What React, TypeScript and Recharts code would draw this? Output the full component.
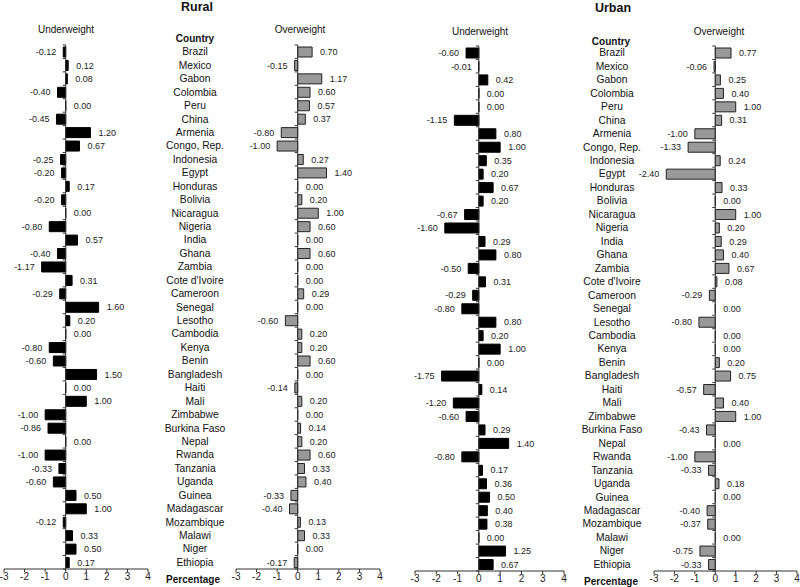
import React from 'react';
import { BarChart, Bar, XAxis, YAxis, ReferenceLine, LabelList } from 'recharts';

const countries = [
  'Brazil', 'Mexico', 'Gabon', 'Colombia', 'Peru', 'China', 'Armenia', 'Congo, Rep.',
  'Indonesia', 'Egypt', 'Honduras', 'Bolivia', 'Nicaragua', 'Nigeria', 'India', 'Ghana',
  'Zambia', "Cote d'Ivoire", 'Cameroon', 'Senegal', 'Lesotho', 'Cambodia', 'Kenya', 'Benin',
  'Bangladesh', 'Haiti', 'Mali', 'Zimbabwe', 'Burkina Faso', 'Nepal', 'Rwanda', 'Tanzania',
  'Uganda', 'Guinea', 'Madagascar', 'Mozambique', 'Malawi', 'Niger', 'Ethiopia',
];

const ruralUnderweight = [
  -0.12, 0.12, 0.08, -0.4, 0.0, -0.45, 1.2, 0.67, -0.25, -0.2, 0.17, -0.2, 0.0, -0.8,
  0.57, -0.4, -1.17, 0.31, -0.29, 1.6, 0.2, 0.0, -0.8, -0.6, 1.5, 0.0, 1.0, -1.0,
  -0.86, 0.0, -1.0, -0.33, -0.6, 0.5, 1.0, -0.12, 0.33, 0.5, 0.17,
];

const ruralOverweight = [
  0.7, -0.15, 1.17, 0.6, 0.57, 0.37, -0.8, -1.0, 0.27, 1.4, 0.0, 0.2, 1.0, 0.6,
  0.0, 0.6, 0.0, 0.0, 0.29, 0.0, -0.6, 0.2, 0.2, 0.6, 0.0, -0.14, 0.2, 0.0,
  0.14, 0.2, 0.6, 0.33, 0.4, -0.33, -0.4, 0.13, 0.33, 0.0, -0.17,
];

const urbanUnderweight = [
  -0.6, -0.01, 0.42, 0.0, 0.0, -1.15, 0.8, 1.0, 0.35, 0.2, 0.67, 0.2, -0.67, -1.6,
  0.29, 0.8, -0.5, 0.31, -0.29, -0.8, 0.8, 0.2, 1.0, 0.0, -1.75, 0.14, -1.2, -0.6,
  0.29, 1.4, -0.8, 0.17, 0.36, 0.5, 0.4, 0.38, 0.0, 1.25, 0.67,
];

const urbanOverweight = [
  0.77, -0.06, 0.25, 0.4, 1.0, 0.31, -1.0, -1.33, 0.24, -2.4, 0.33, 0.0, 1.0, 0.2,
  0.29, 0.4, 0.67, 0.08, -0.29, 0.0, -0.8, 0.0, 0.0, 0.2, 0.75, -0.57, 0.4, 1.0,
  -0.43, 0.0, -1.0, -0.33, 0.18, 0.0, -0.4, -0.37, 0.0, -0.75, -0.33,
];

const xTicks = [-3, -2, -1, 0, 1, 2, 3, 4];

const FONT = '"Liberation Sans", Arial, Helvetica, sans-serif';

const buildRows = (values: number[]) =>
  countries.map((country, i) => ({ country, value: values[i] }));

// value printed just past the end of each bar
const ValueLabel = (props: any) => {
  const { x, y, width, height, value } = props;
  const a = Number(x);
  const w = Number(width);
  const neg = value < 0;
  const end = neg ? Math.min(a, a + w) : Math.max(a, a + w);
  return (
    <text
      x={neg ? end - 7 : end + 8}
      y={Number(y) + Number(height) / 2}
      dy="0.35em"
      textAnchor={neg ? 'end' : 'start'}
      fontSize={9}
      fill="#222"
      fontFamily={FONT}
    >
      {Number(value).toFixed(2)}
    </text>
  );
};

// vertical line at zero with small ticks between the countries
const ZeroAxis = (props: any) => {
  const { x1, y1, y2 } = props;
  const top = Math.min(y1, y2);
  const bottom = Math.max(y1, y2);
  const step = (bottom - top) / countries.length;
  const ticks = [];
  for (let i = 0; i <= countries.length; i++) {
    const yy = top + i * step;
    ticks.push(<line key={i} x1={x1 - 3} x2={x1} y1={yy} y2={yy} stroke="#333" />);
  }
  return (
    <g>
      <line x1={x1} x2={x1} y1={top} y2={bottom} stroke="#333" />
      {ticks}
    </g>
  );
};

interface PanelProps {
  values: number[];
  left: number;
  width: number;
  top: number;
  bottom: number;
  marginLeft: number;
  marginRight: number;
  fill: string;
  stroke: string;
  labelAxisWidth?: number;
  labelOffset?: number;
}

const Panel: React.FC<PanelProps> = ({
  values, left, width, top, bottom, marginLeft, marginRight, fill, stroke,
  labelAxisWidth, labelOffset = 0,
}) => (
  <div style={{ position: 'absolute', left, top: 0 }}>
    <BarChart
      width={width}
      height={587}
      data={buildRows(values)}
      layout="vertical"
      margin={{ top, right: marginRight, bottom: 587 - bottom - 14, left: marginLeft }}
      barSize={10}
    >
      <XAxis
        type="number"
        domain={[-3, 4]}
        ticks={xTicks}
        interval={0}
        height={14}
        tickSize={3}
        tickMargin={1}
        tick={{ fontSize: 10, fill: '#222', fontFamily: FONT }}
        axisLine={{ stroke: '#333' }}
        tickLine={{ stroke: '#333' }}
        allowDataOverflow
      />
      {labelAxisWidth ? (
        <YAxis
          type="category"
          dataKey="country"
          width={labelAxisWidth}
          interval={0}
          tickSize={0}
          tickMargin={0}
          axisLine={false}
          tickLine={false}
          tick={(p: any) => (
            <text
              x={p.x - labelOffset}
              y={p.y}
              dy="0.35em"
              textAnchor="middle"
              fontSize={10.3}
              fill="#111"
              fontFamily={FONT}
            >
              {p.payload.value}
            </text>
          )}
        />
      ) : (
        <YAxis type="category" dataKey="country" hide />
      )}
      <Bar
        dataKey="value"
        fill={fill}
        stroke={stroke}
        strokeWidth={1}
        minPointSize={0.01}
        isAnimationActive={false}
      >
        <LabelList dataKey="value" content={ValueLabel} />
      </Bar>
      <ReferenceLine x={0} shape={ZeroAxis} />
    </BarChart>
  </div>
);

const Caption: React.FC<{ x: number; y: number; size: number; bold?: boolean; text: string }> = ({
  x, y, size, bold, text,
}) => (
  <div
    style={{
      position: 'absolute',
      left: x,
      top: y,
      transform: 'translate(-50%, -50%)',
      fontFamily: FONT,
      fontSize: size,
      fontWeight: bold ? 'bold' : 'normal',
      color: '#111',
      whiteSpace: 'nowrap',
      lineHeight: 1,
    }}
  >
    {text}
  </div>
);

export default function App() {
  return (
    <div style={{ position: 'absolute', left: 0, top: 0, width: 800, height: 587, background: '#fff', overflow: 'hidden' }}>
      <Panel values={ruralUnderweight} left={0} width={160} top={45} bottom={569}
        marginLeft={4} marginRight={12} fill="#000" stroke="#000" />
      <Panel values={ruralOverweight} left={130} width={265} top={45} bottom={569}
        marginLeft={0} marginRight={15} fill="#999" stroke="#222"
        labelAxisWidth={106} labelOffset={41} />
      <Panel values={urbanUnderweight} left={400} width={174} top={46} bottom={571}
        marginLeft={15} marginRight={10} fill="#000" stroke="#000" />
      <Panel values={urbanOverweight} left={550} width={250} top={46} bottom={571}
        marginLeft={0} marginRight={3} fill="#999" stroke="#222"
        labelAxisWidth={104} labelOffset={42} />

      <Caption x={197} y={7} size={12.5} bold text="Rural" />
      <Caption x={613} y={8} size={12.5} bold text="Urban" />
      <Caption x={66} y={30} size={10} text="Underweight" />
      <Caption x={300} y={30} size={10} text="Overweight" />
      <Caption x={480} y={32} size={10} text="Underweight" />
      <Caption x={719} y={32} size={10} text="Overweight" />
      <Caption x={195} y={39} size={10} bold text="Country" />
      <Caption x={611} y={42} size={10} bold text="Country" />
      <Caption x={193} y={580} size={10} bold text="Percentage" />
      <Caption x={611} y={582} size={10} bold text="Percentage" />
    </div>
  );
}
